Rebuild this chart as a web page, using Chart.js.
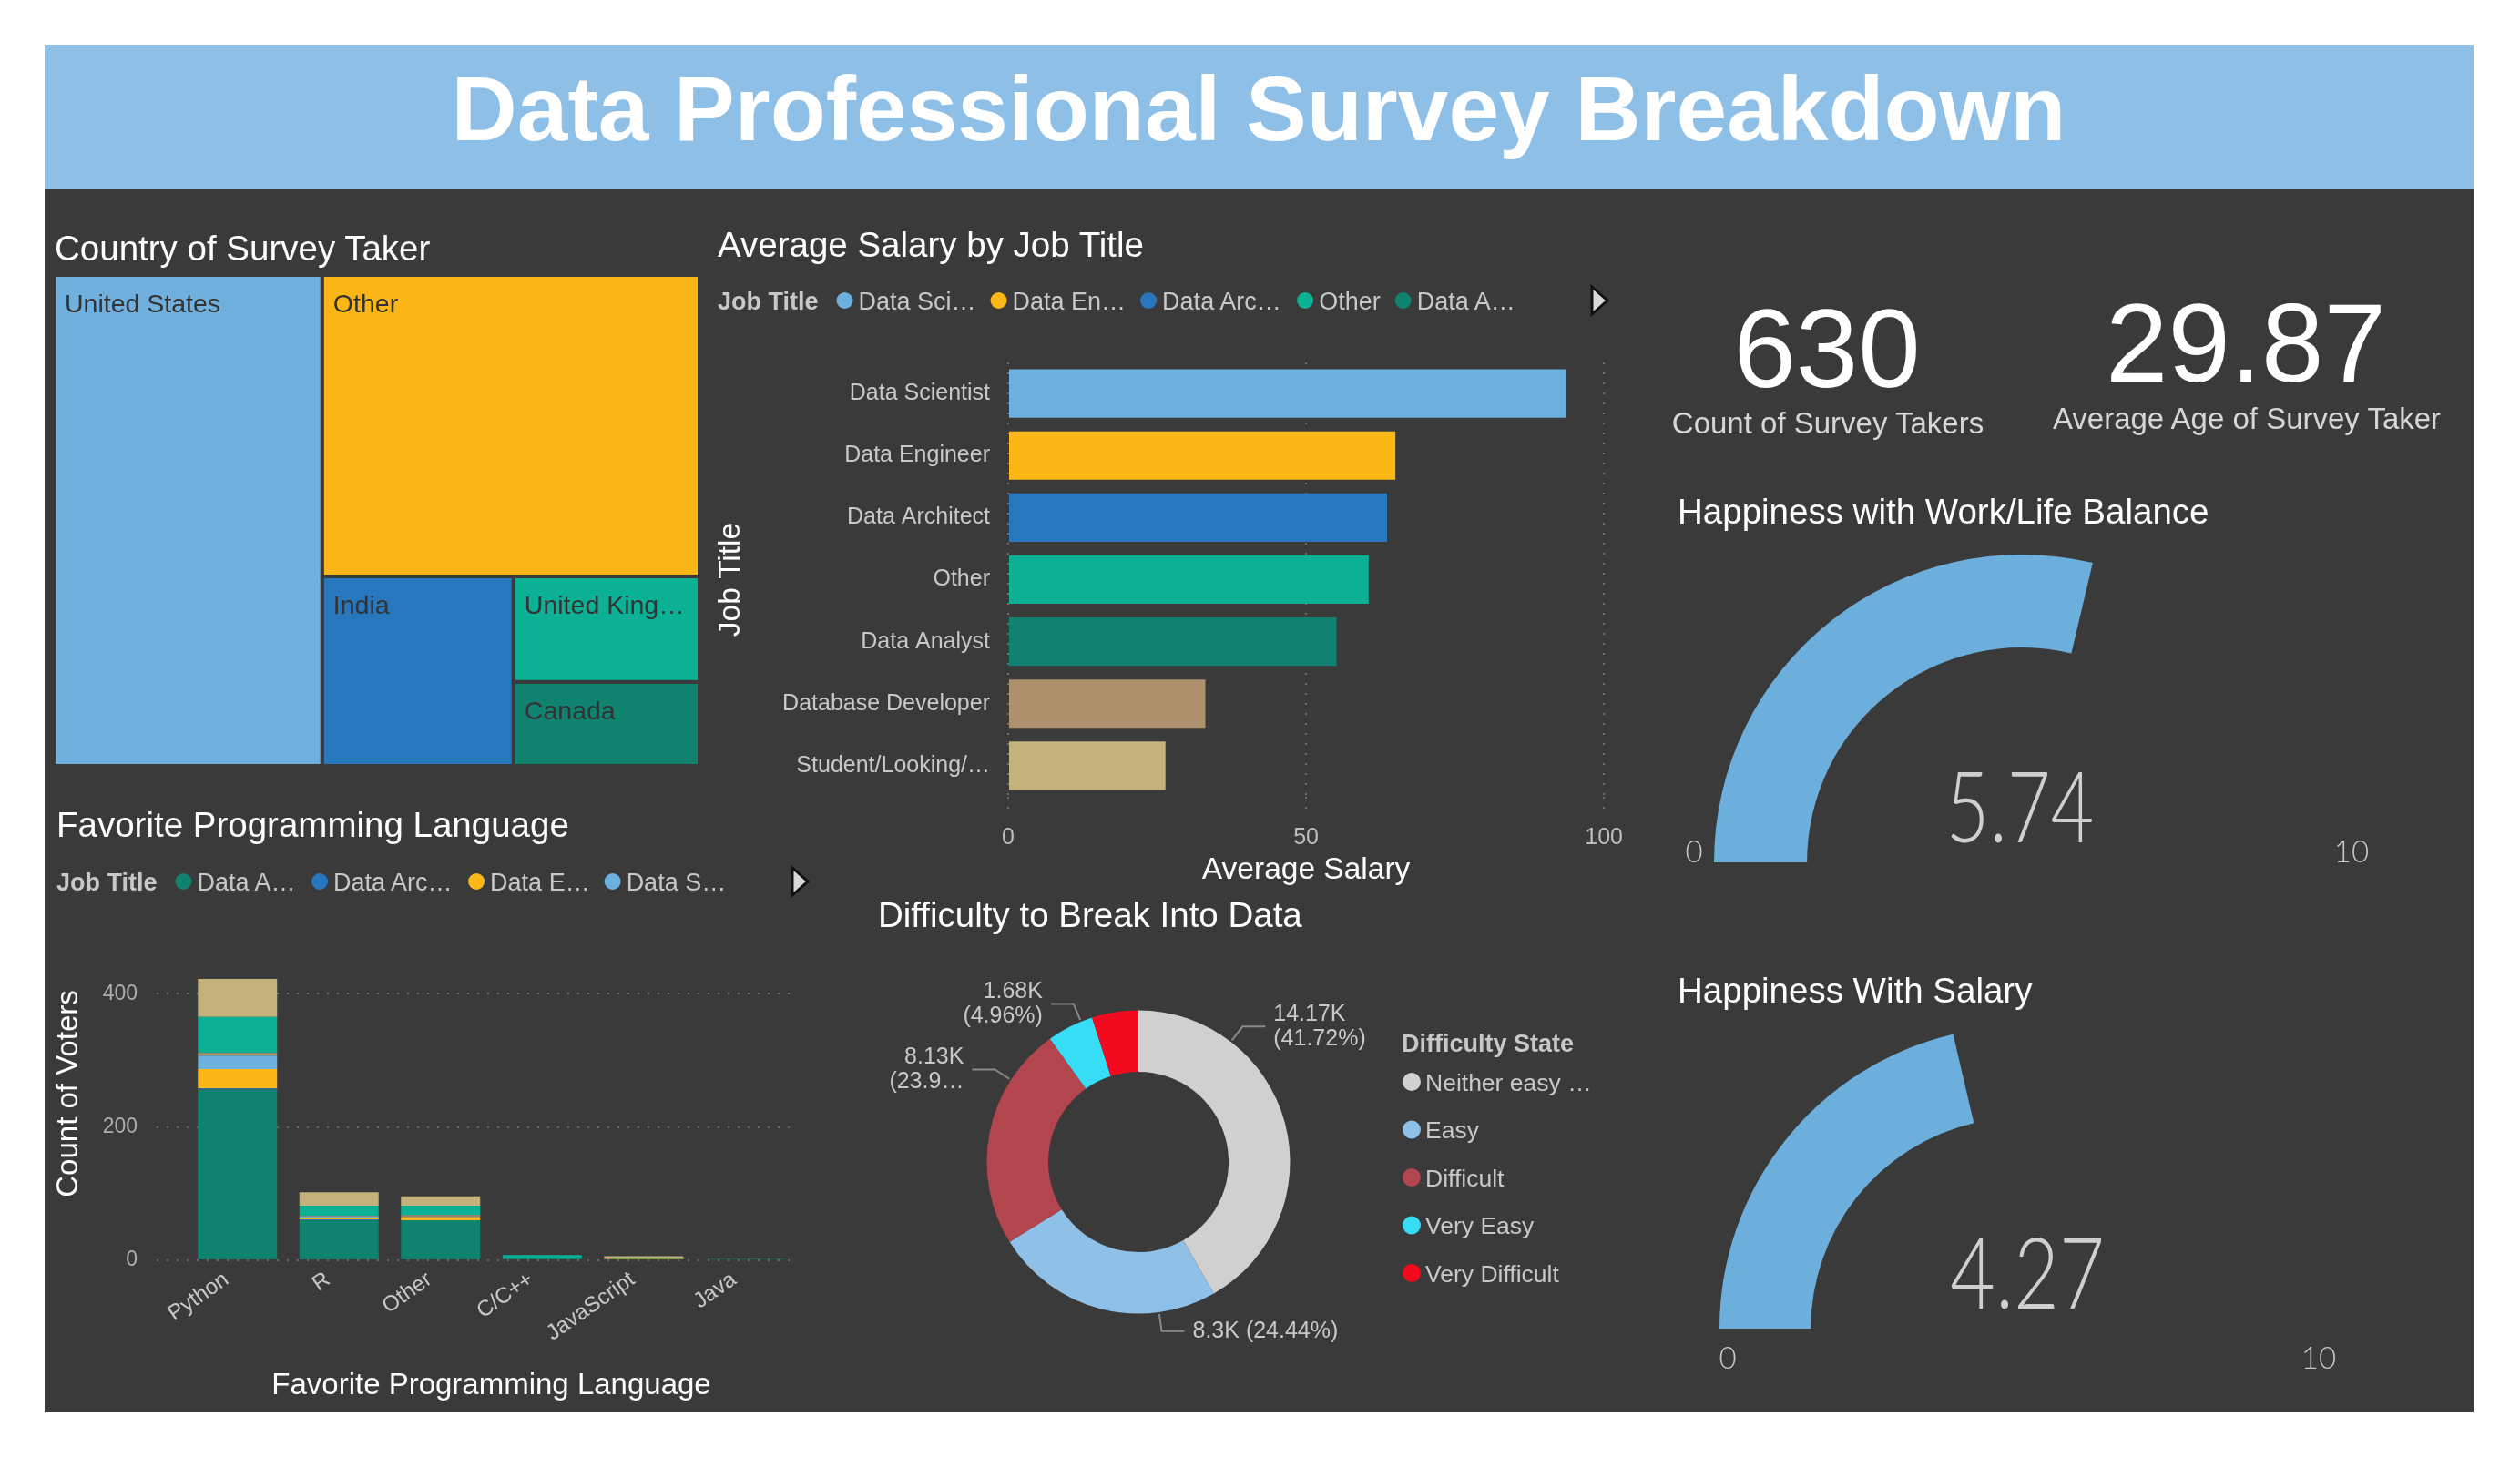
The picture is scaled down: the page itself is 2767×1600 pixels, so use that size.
<!DOCTYPE html>
<html><head><meta charset="utf-8">
<script src="https://cdn.jsdelivr.net/npm/chart.js@4.4.0/dist/chart.umd.min.js"></script>
<style>
html,body{margin:0;padding:0;background:#fff;}
#page{position:relative;width:2767px;height:1600px;overflow:hidden;background:#fff;}
canvas{position:absolute;}
#overlay{position:absolute;left:0;top:0;z-index:5;pointer-events:none;}
</style></head>
<body><div id="page">
<div style="position:absolute;left:49px;top:49px;width:2667px;height:1502px;background:#3a3a3a"></div>
<div style="position:absolute;left:49px;top:49px;width:2667px;height:159px;background:#8ebfe7"></div>
<canvas id="treemap" width="709" height="539" style="left:59px;top:302px"></canvas>
<canvas id="salary" width="1020" height="620" style="left:770px;top:357px"></canvas>
<canvas id="lang" width="870" height="568" style="left:40px;top:977px"></canvas>
<canvas id="donut" width="600" height="470" style="left:944px;top:1040px"></canvas>
<canvas id="gauge1" width="676" height="338" style="left:1882px;top:609px"></canvas>
<canvas id="gauge2" width="664" height="332" style="left:1888px;top:1127px"></canvas>
<svg id="overlay" width="2767" height="1600" xmlns="http://www.w3.org/2000/svg"></svg>
</div>
<script>
// ---------------- data ----------------
const dashboardTitle = 'Data Professional Survey Breakdown';

const countries = ['United States', 'Other', 'India', 'United Kingdom', 'Canada'];
const countryCounts = [262, 226, 72, 39, 31];

const jobTitles = ['Data Scientist', 'Data Engineer', 'Data Architect', 'Other', 'Data Analyst', 'Database Developer', 'Student/Looking/None'];
const avgSalary = [93.7, 65.0, 63.6, 60.5, 55.1, 33.1, 26.4];
const salaryTicks = [0, 50, 100];
const salaryLegendLabels = ['Data Sci…', 'Data En…', 'Data Arc…', 'Other', 'Data A…'];

const languages = ['Python', 'R', 'Other', 'C/C++', 'JavaScript', 'Java'];
const stackJobTitles = ['Data Analyst', 'Data Architect', 'Data Engineer', 'Data Scientist', 'Database Developer', 'Other', 'Student/Looking/None'];
const votesDataAnalyst       = [256, 60, 60, 4, 0, 2];
const votesDataArchitect     = [2, 1, 0, 0, 0, 0];
const votesDataEngineer      = [29, 2, 5, 0, 2, 0];
const votesDataScientist     = [20, 3, 1, 0, 0, 0];
const votesDatabaseDeveloper = [4, 1, 2, 0, 0, 0];
const votesOther             = [54, 15, 14, 4, 2, 0];
const votesStudent           = [57, 20, 14, 0, 2, 0];
const voteTicks = [0, 200, 400];
const langLegendLabels = ['Data A…', 'Data Arc…', 'Data E…', 'Data S…'];

const difficultyStates = ['Neither easy nor difficult', 'Easy', 'Difficult', 'Very Easy', 'Very Difficult'];
const difficultyValues = [14170, 8300, 8130, 1684, 1681];

const surveyTakers = 630;
const averageAge = 29.87;
const workLifeHappiness = 5.74;
const salaryHappiness = 4.27;
const gaugeMin = 0;
const gaugeMax = 10;

// ---------------- styles ----------------
const FONT = "'Liberation Sans', Arial, sans-serif";
const jobColors = {
  'Data Scientist': '#6cb0de', 'Data Engineer': '#fab716', 'Data Architect': '#2877be',
  'Other': '#0cb094', 'Data Analyst': '#0f8270', 'Database Developer': '#ae916c',
  'Student/Looking/None': '#c4b27c'
};
const countryColors = ['#6fb0de', '#f9b616', '#2877be', '#0cb094', '#108370'];
const difficultyColors = ['#d0d0d0', '#8ec0e8', '#b3454f', '#36ddf4', '#f20a1e'];
const PANEL = '#3a3a3a';
const LABEL = '#c8c8c8';

Chart.defaults.font.family = FONT;
Chart.defaults.animation = false;

const measureCtx = document.createElement('canvas').getContext('2d');
function truncateText(ctx, text, maxW) {
  if (ctx.measureText(text).width <= maxW) return text;
  let t = text;
  while (t.length > 0 && ctx.measureText(t + '…').width > maxW) t = t.slice(0, -1);
  return t + '…';
}
function truncate(text, font, maxW) { measureCtx.font = font; return truncateText(measureCtx, text, maxW); }

// ---------------- treemap ----------------
function squarify(values, W, H) {
  const total = values.reduce((a, b) => a + b, 0);
  const areas = values.map(v => v * W * H / total);
  const rects = [];
  let rx = 0, ry = 0, rw = W, rh = H, i = 0;
  while (i < areas.length) {
    const side = Math.min(rw, rh);
    const worst = r => {
      const s = r.reduce((a, b) => a + b, 0), mx = Math.max(...r), mn = Math.min(...r);
      return Math.max(side * side * mx / (s * s), (s * s) / (side * side * mn));
    };
    const row = [areas[i]]; let j = i + 1;
    while (j < areas.length && worst([...row, areas[j]]) <= worst(row)) { row.push(areas[j]); j++; }
    const s = row.reduce((a, b) => a + b, 0);
    if (rw >= rh) {
      const cw = s / rh; let cy = ry;
      row.forEach(a => { const ch = a / cw; rects.push({x: rx, y: cy, w: cw, h: ch}); cy += ch; });
      rx += cw; rw -= cw;
    } else {
      const chh = s / rw; let cx = rx;
      row.forEach(a => { const cw = a / chh; rects.push({x: cx, y: ry, w: cw, h: chh}); cx += cw; });
      ry += chh; rh -= chh;
    }
    i = j;
  }
  return rects;
}
const treemapPlugin = {
  id: 'treemapCells',
  afterDatasetsDraw(chart) {
    const xs = chart.scales.x, ys = chart.scales.y, ctx = chart.ctx;
    const W = xs.getPixelForValue(1) - xs.getPixelForValue(0);
    const H = ys.getPixelForValue(1) - ys.getPixelForValue(0);
    const rects = squarify(countryCounts, W, H);
    ctx.save();
    rects.forEach((r, i) => {
      const x0 = xs.getPixelForValue(r.x / W), x1 = xs.getPixelForValue((r.x + r.w) / W);
      const y0 = ys.getPixelForValue(r.y / H), y1 = ys.getPixelForValue((r.y + r.h) / H);
      ctx.fillStyle = countryColors[i];
      ctx.fillRect(x0, y0, x1 - x0, y1 - y0);
      ctx.strokeStyle = PANEL; ctx.lineWidth = 4;
      ctx.strokeRect(x0, y0, x1 - x0, y1 - y0);
      ctx.font = `28.5px ${FONT}`;
      ctx.fillStyle = '#333333'; ctx.textAlign = 'left'; ctx.textBaseline = 'alphabetic';
      const label = truncateText(ctx, countries[i], (x1 - x0) - 24);
      ctx.fillText(label, x0 + 12, y0 + 41);
    });
    ctx.restore();
  }
};
new Chart(document.getElementById('treemap'), {
  type: 'scatter',
  data: {datasets: [{label: 'Country of Survey Taker', data: [], pointRadius: 0}]},
  options: {
    responsive: false, animation: false, devicePixelRatio: 1, events: [],
    layout: {padding: 0},
    plugins: {legend: {display: false}, tooltip: {enabled: false}},
    scales: {
      x: {type: 'linear', min: 0, max: 1, display: false},
      y: {type: 'linear', min: 0, max: 1, reverse: true, display: false}
    }
  },
  plugins: [treemapPlugin]
});

// ---------------- salary bar chart ----------------
new Chart(document.getElementById('salary'), {
  type: 'bar',
  data: {
    labels: jobTitles,
    datasets: [{
      label: 'Average Salary', data: avgSalary,
      backgroundColor: jobTitles.map(t => jobColors[t]),
      barPercentage: 0.78, categoryPercentage: 1, borderWidth: 0
    }]
  },
  options: {
    indexAxis: 'y', responsive: false, animation: false, devicePixelRatio: 1, events: [],
    layout: {padding: {left: 0, right: 27, top: 41, bottom: 0}},
    plugins: {legend: {display: false}, tooltip: {enabled: false}},
    scales: {
      x: {
        min: 0, max: 100,
        afterBuildTicks: s => { s.ticks = salaryTicks.map(v => ({value: v})); },
        ticks: {color: '#bdbdbd', font: {size: 25}, padding: 8},
        grid: {color: '#6e6e6e', lineWidth: 2, drawTicks: true, tickLength: 22, tickColor: '#6e6e6e', tickBorderDash: [2, 9]},
        border: {display: false, dash: [2, 9]},
        title: {display: true, text: 'Average Salary', color: '#ffffff', font: {size: 33.5}, padding: {top: 0, bottom: 1}},
        afterFit: s => { s.height = 102; }
      },
      y: {
        ticks: {
          color: LABEL, font: {size: 25}, padding: 20,
          callback: function (v) { return truncate(this.getLabelForValue(v), `25px ${FONT}`, 229); }
        },
        grid: {display: false, drawTicks: false},
        border: {display: false},
        title: {display: true, text: 'Job Title', color: '#ffffff', font: {size: 33.5}, padding: {top: 13, bottom: 0}},
        afterFit: s => { s.width = 337; }
      }
    }
  }
});

// ---------------- favorite language stacked chart ----------------
const langSeries = [votesDataAnalyst, votesDataArchitect, votesDataEngineer, votesDataScientist, votesDatabaseDeveloper, votesOther, votesStudent];
new Chart(document.getElementById('lang'), {
  type: 'bar',
  data: {
    labels: languages,
    datasets: stackJobTitles.map((t, i) => ({
      label: t, data: langSeries[i], backgroundColor: jobColors[t],
      barPercentage: 0.78, categoryPercentage: 1, borderWidth: 0
    }))
  },
  options: {
    responsive: false, animation: false, devicePixelRatio: 1, events: [],
    layout: {padding: {left: 0, right: 36, top: 41, bottom: 0}},
    plugins: {legend: {display: false}, tooltip: {enabled: false}},
    scales: {
      x: {
        stacked: true,
        grid: {display: false, drawTicks: false}, border: {display: false},
        ticks: {color: LABEL, font: {size: 24}, minRotation: 35, maxRotation: 35, padding: 7, labelOffset: -12, autoSkip: false},
        title: {display: true, text: 'Favorite Programming Language', color: '#ffffff', font: {size: 33}, padding: {top: 0, bottom: 3}},
        afterFit: s => { s.height = 161; }
      },
      y: {
        stacked: true, min: 0, max: 500,
        afterBuildTicks: s => { s.ticks = voteTicks.map(v => ({value: v})); },
        ticks: {color: '#adadad', font: {size: 23}, padding: 21},
        grid: {color: '#6a6a6a', lineWidth: 2, drawTicks: true, tickLength: 33, tickColor: '#6a6a6a', tickBorderDash: [2, 9]},
        border: {display: false, dash: [2, 9]},
        title: {display: true, text: 'Count of Voters', color: '#ffffff', font: {size: 33}, padding: {top: 16, bottom: 0}},
        afterFit: s => { s.width = 165; }
      }
    }
  }
});

// ---------------- donut ----------------
function fmtK(v) { return parseFloat((v / 1000).toFixed(2)).toString() + 'K'; }
const donutLabels = {
  id: 'donutLabels',
  afterDatasetsDraw(chart) {
    const ctx = chart.ctx, meta = chart.getDatasetMeta(0);
    const data = chart.data.datasets[0].data;
    const total = data.reduce((a, b) => a + b, 0);
    const minX = 20, lh = 27;
    const placed = [];
    ctx.save();
    ctx.font = `25px ${FONT}`;
    meta.data.forEach((arc, i) => {
      const p = arc.getProps(['x', 'y', 'startAngle', 'endAngle', 'outerRadius'], true);
      const startTop = (((p.startAngle + Math.PI / 2) * 180 / Math.PI) % 360 + 360) % 360;
      const frac = startTop < 180 ? 0.25 : 0.75;
      const a = p.startAngle + (p.endAngle - p.startAngle) * frac;
      const dx = Math.cos(a), dy = Math.sin(a), R = p.outerRadius;
      const p0 = [p.x + dx * (R + 2), p.y + dy * (R + 2)];
      const p1 = [p.x + dx * (R + 21), p.y + dy * (R + 21)];
      const side = dx >= 0 ? 1 : -1;
      const p2 = [p1[0] + side * 25, p1[1]];
      const tx = p2[0] + side * 9;
      const v = data[i];
      const valTxt = fmtK(v), pctTxt = '(' + (v / total * 100).toFixed(2) + '%)';
      let lines = Math.abs(dy) > 0.95 ? [valTxt + ' ' + pctTxt] : [valTxt, pctTxt];
      const maxW = side > 0 ? chart.width - 4 - tx : tx - minX;
      lines = lines.map(l => truncateText(ctx, l, maxW));
      const w = Math.max(...lines.map(l => ctx.measureText(l).width));
      const h = lines.length * lh;
      const box = {x0: side > 0 ? tx : tx - w, x1: side > 0 ? tx + w : tx, y0: p2[1] - h / 2, y1: p2[1] + h / 2};
      if (placed.some(b => b.x0 < box.x1 && box.x0 < b.x1 && b.y0 < box.y1 && box.y0 < b.y1)) return;
      placed.push(box);
      ctx.strokeStyle = '#8a8a8a'; ctx.lineWidth = 2;
      ctx.beginPath(); ctx.moveTo(p0[0], p0[1]); ctx.lineTo(p1[0], p1[1]); ctx.lineTo(p2[0], p2[1]); ctx.stroke();
      ctx.fillStyle = LABEL; ctx.textAlign = side > 0 ? 'left' : 'right'; ctx.textBaseline = 'middle';
      lines.forEach((l, k) => ctx.fillText(l, tx, p2[1] - h / 2 + lh / 2 + k * lh));
    });
    ctx.restore();
  }
};
new Chart(document.getElementById('donut'), {
  type: 'doughnut',
  data: {labels: difficultyStates, datasets: [{data: difficultyValues, backgroundColor: difficultyColors, borderWidth: 0}]},
  options: {
    responsive: false, animation: false, devicePixelRatio: 1, events: [],
    cutout: '59.5%',
    layout: {padding: {left: 139.5, right: 127.5, top: 69.5, bottom: 67.5}},
    plugins: {legend: {display: false}, tooltip: {enabled: false}}
  },
  plugins: [donutLabels]
});

// ---------------- gauges ----------------
function gauge(id, value) {
  new Chart(document.getElementById(id), {
    type: 'doughnut',
    data: {labels: ['Value', 'Remaining'], datasets: [{data: [value - gaugeMin, gaugeMax - value], backgroundColor: ['#6cafdd', 'rgba(0,0,0,0)'], borderWidth: 0}]},
    options: {
      responsive: false, animation: false, devicePixelRatio: 1, events: [],
      circumference: 180, rotation: -90, cutout: '69.8%',
      layout: {padding: 0},
      plugins: {legend: {display: false}, tooltip: {enabled: false}}
    }
  });
}
gauge('gauge1', workLifeHappiness);
gauge('gauge2', salaryHappiness);

// ---------------- text overlay ----------------
const svg = document.getElementById('overlay');
const NS = 'http://www.w3.org/2000/svg';
function txt(s, x, y, o = {}) {
  const t = document.createElementNS(NS, 'text');
  t.setAttribute('x', x); t.setAttribute('y', y);
  t.setAttribute('font-family', o.family || FONT);
  t.setAttribute('font-size', o.size || 27);
  t.setAttribute('font-weight', o.weight || 'normal');
  t.setAttribute('fill', o.fill || '#ffffff');
  t.setAttribute('text-anchor', o.anchor || 'start');
  if (o.textLength) { t.setAttribute('textLength', o.textLength); t.setAttribute('lengthAdjust', 'spacingAndGlyphs'); }
  t.textContent = s;
  svg.appendChild(t);
  return t;
}
function circ(cx, cy, r, fill) {
  const c = document.createElementNS(NS, 'circle');
  c.setAttribute('cx', cx); c.setAttribute('cy', cy); c.setAttribute('r', r); c.setAttribute('fill', fill);
  svg.appendChild(c);
}
function arrow(x, cy) {
  const p = document.createElementNS(NS, 'polygon');
  p.setAttribute('points', `${x - 8},${cy - 15} ${x + 9},${cy} ${x - 8},${cy + 15}`);
  p.setAttribute('fill', '#d8d8d8'); p.setAttribute('stroke', '#111'); p.setAttribute('stroke-width', 3);
  svg.appendChild(p);
}
function legendRow(x, cy, title, labels, colors, size) {
  measureCtx.font = `bold ${size}px ${FONT}`;
  txt(title, x, cy + size * 0.358, {size, weight: 'bold', fill: LABEL});
  let left = x + measureCtx.measureText(title).width + 20;
  measureCtx.font = `${size}px ${FONT}`;
  labels.forEach((l, i) => {
    circ(left + 9, cy, 9, colors[i]);
    const tx = left + 24;
    txt(l, tx, cy + size * 0.358, {size, fill: LABEL});
    left = tx + measureCtx.measureText(l).width + 16;
  });
}

txt(dashboardTitle, 1382, 154, {size: 100, weight: 'bold', anchor: 'middle'});
txt('Country of Survey Taker', 60, 286, {size: 38.5});
txt('Average Salary by Job Title', 788, 282, {size: 38.5});
txt('Favorite Programming Language', 62, 919, {size: 38.5});
txt('Difficulty to Break Into Data', 964, 1018, {size: 38.5});
txt('Happiness with Work/Life Balance', 1842, 575, {size: 38.5});
txt('Happiness With Salary', 1842, 1101, {size: 38.5});

legendRow(788, 330, 'Job Title', salaryLegendLabels, jobTitles.slice(0, 5).map(t => jobColors[t]), 27);
arrow(1756, 330);
legendRow(62, 968, 'Job Title', langLegendLabels, stackJobTitles.slice(0, 4).map(t => jobColors[t]), 27);
arrow(878, 968);

// donut legend
txt('Difficulty State', 1539, 1155, {size: 27, weight: 'bold', fill: LABEL});
difficultyStates.forEach((s, i) => {
  const cy = 1188 + i * 52.5;
  circ(1550, cy, 10, difficultyColors[i]);
  txt(truncate(s, `26.5px ${FONT}`, 190), 1565, cy + 9.5, {size: 26.5, fill: LABEL});
});

// KPI cards
txt(String(surveyTakers), 2006, 425, {size: 123, anchor: 'middle'});
txt('Count of Survey Takers', 2007, 476, {size: 33, fill: '#d6d6d6', anchor: 'middle'});
txt(averageAge.toFixed(2), 2466, 419, {size: 123, anchor: 'middle'});
txt('Average Age of Survey Taker', 2467, 471, {size: 33, fill: '#d6d6d6', anchor: 'middle'});

// gauge labels
const THIN = "Lato, 'Open Sans', 'Liberation Sans', sans-serif";
txt(workLifeHappiness.toFixed(2), 2218, 925, {size: 108, weight: 300, family: THIN, fill: '#cfcfcf', anchor: 'middle', textLength: 163});
txt(String(gaugeMin), 1860, 947, {size: 33, weight: 300, family: THIN, fill: '#c8c8c8', anchor: 'middle'});
txt(String(gaugeMax), 2582, 947, {size: 33, weight: 300, family: THIN, fill: '#c8c8c8', anchor: 'middle'});
txt(salaryHappiness.toFixed(2), 2226, 1437, {size: 108, weight: 300, family: THIN, fill: '#cfcfcf', anchor: 'middle', textLength: 170});
txt(String(gaugeMin), 1897, 1503, {size: 33, weight: 300, family: THIN, fill: '#c8c8c8', anchor: 'middle'});
txt(String(gaugeMax), 2546, 1503, {size: 33, weight: 300, family: THIN, fill: '#c8c8c8', anchor: 'middle'});
</script>
</body></html>
